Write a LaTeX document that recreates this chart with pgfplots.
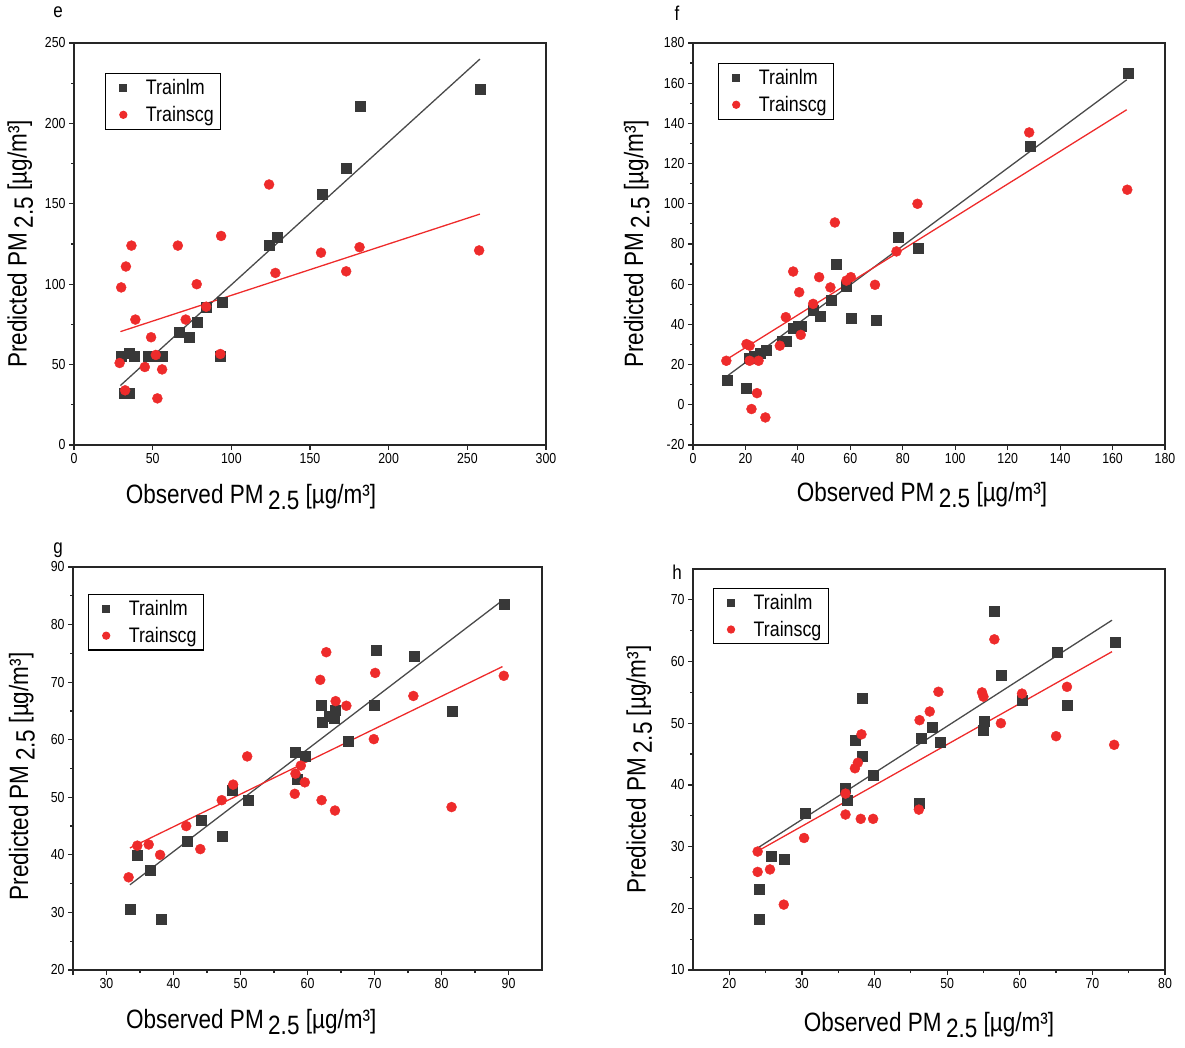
\documentclass[border=0pt]{standalone}
\usepackage{fontspec}
\setmainfont[FakeStretch=0.85]{Liberation Sans}
\usepackage{pgfplots}
\pgfplotsset{compat=1.18}
\definecolor{blk}{HTML}{383838}
\definecolor{rd}{HTML}{EE2B2B}
\definecolor{lblk}{HTML}{4A4A4A}
\pgfplotsset{
 panel/.style={
  scale only axis, width=472pt, height=402pt, anchor=south west,
  axis line style={line width=1.8pt, black!85},
  tick pos=left, tick align=outside,
  major tick length=5pt, minor tick length=3pt,
  every tick/.style={black!85, line width=1.2pt},
  ticklabel style={font=\fontsize{14.5}{14.5}\selectfont},
  /pgf/number format/assume math mode=true,
  label style={font=\fontsize{26.5}{26.5}\selectfont},
  legend style={draw=black, line width=1.2pt, font=\fontsize{21}{21}\selectfont,
    inner xsep=5pt, inner ysep=4pt, row sep=6pt},
  legend cell align=left,
  scaled ticks=false, clip=false,
  xlabel={Observed PM\,\raisebox{-0.45ex}{2.5} [µg/m³]},
  ylabel={Predicted PM\,\raisebox{-0.45ex}{2.5} [µg/m³]},
 },
 lm/.style={only marks, mark=square*, mark size=5pt, color=blk,
   legend image code/.code={\draw[##1,mark size=3.5pt] plot coordinates {(12pt,0pt)};\path (0pt,0pt) (32pt,0pt);}},
 scg/.style={only marks, mark=*, mark size=5pt, color=rd,
   legend image code/.code={\draw[##1,mark size=3.5pt] plot coordinates {(12pt,0pt)};\path (0pt,0pt) (32pt,0pt);}},
 lmfit/.style={no marks, line width=1.3pt, color=lblk, forget plot},
 scgfit/.style={no marks, line width=1.3pt, color=rd, forget plot},
}
\pgfplotstableread{
x y
30 55
35 57
38 55
47 55
52 55
56 55
32 32
35 32
67 70
73 67
78 76.5
84 86
94 89
93 55
124 124
129 129
158 156
173 172
182 211
258 221
}\eLM
\pgfplotstableread{
x y
30 98
33 111
36.5 124
39 78
29 51
32.5 34
49 67
45 48.5
52 56
56 47
53 29
66 124
71 78
78 100
84 86
93.5 130
93 56.6
124 162
128 107
157 119.6
173 108
181.5 123
257.5 121
}\eSCG
\pgfplotstableread{
x y
13.1 12.4
20.4 8.3
21.6 23.2
23.5 24
25.5 25.7
28 27.4
34 31.5
35.6 31.5
38.2 38.2
40 39.3
41.4 39
45.8 47.3
48.4 44
52.8 52.2
54.7 69.7
58.5 58.9
60.5 43.1
70 42.3
78.2 83.4
85.9 78
128.5 128.5
166 165
}\fLM
\pgfplotstableread{
x y
12.7 21.9
20.4 30.2
21.6 29.4
21.6 21.9
25 21.9
22.3 -2.1
24.4 5.8
27.6 -6.3
33.1 29.4
35.4 43.6
38.2 66.3
40.5 56
41.1 34.8
45.8 50.2
48.1 63.5
52.4 58.4
54.1 90.7
58.5 61.8
60.2 63.5
69.4 59.7
77.6 76.3
85.6 100
128.2 135.5
165.6 107
}\fSCG
\pgfplotstableread{
x y
33.5 30.6
34.6 39.9
36.5 37.4
38.2 28.8
42 42.4
44.2 46
47.2 43.3
48.7 51.2
51.1 49.5
58.2 57.9
58.4 53.2
59.7 57.2
62 66
62.2 63
63.2 64.1
64.1 65.1
64 63.8
66 59.8
69.9 66
70.3 75.5
75.9 74.5
81.6 65
89.4 83.5
}\gLM
\pgfplotstableread{
x y
33.3 36.1
34.6 41.6
36.3 41.8
38 40
41.9 45
44 41
47.2 49.5
48.9 52.2
51 57.1
58.1 50.6
58.2 54.1
59 55.5
59.6 52.6
61.9 70.4
62.8 75.2
62.1 49.5
64.2 66.7
65.8 65.9
64.1 47.7
70.1 71.6
69.9 60.1
75.8 67.6
81.5 48.3
89.3 71.1
}\gSCG
\pgfplotstableread{
x y
24.1 18.2
24.1 23.1
25.8 28.4
27.6 27.9
30.4 35.4
36.0 39.4
36.2 37.6
37.4 47.2
38.3 54.1
38.3 44.6
39.8 41.6
46.2 37
46.4 47.6
47.9 49.3
49.1 46.9
55.0 48.9
55.1 50.4
56.5 68.1
57.5 57.8
60.4 53.7
65.1 61.5
66.5 52.9
73.1 63.2
}\hLM
\pgfplotstableread{
x y
23.9 29.2
23.9 25.9
25.6 26.3
27.5 20.6
30.3 31.4
36 38.6
36 35.2
37.3 42.7
37.7 43.6
38.2 48.2
38.1 34.5
39.8 34.5
46.1 36
46.2 50.5
47.6 51.9
48.8 55.1
54.8 55
55 54.3
56.5 63.6
57.4 50
60.3 54.8
65 47.9
66.5 55.9
73 46.5
}\hSCG
\begin{document}
\begin{tikzpicture}
\useasboundingbox (0pt,0pt) rectangle (1185pt,1047pt);
% panel e
\begin{axis}[panel, at={(74pt,602pt)},
  xmin=0, xmax=300, ymin=0, ymax=250,
  xtick={0,50,...,300}, ytick={0,50,...,250}, minor y tick num=1,
  xlabel style={at={(axis description cs:0.375,-0.129)}, anchor=center},
  ylabel style={at={(axis description cs:-0.114,0.5)}, anchor=center},
  legend style={at={(axis description cs:0.066,0.925)}, anchor=north west}]
\addplot[lmfit] coordinates {(29.5,37) (258,240)};
\addplot[scgfit] coordinates {(29.5,70.5) (258,143.6)};
\addplot[lm] table {\eLM};
\addplot[scg] table {\eSCG};
\legend{Trainlm, Trainscg}
\end{axis}
% panel f
\begin{axis}[panel, at={(693pt,602pt)},
  xmin=0, xmax=180, ymin=-20, ymax=180,
  xtick={0,20,...,180}, ytick={-20,0,...,180}, minor y tick num=1,
  xlabel style={at={(axis description cs:0.485,-0.124)}, anchor=center},
  ylabel style={at={(axis description cs:-0.119,0.5)}, anchor=center},
  legend style={at={(axis description cs:0.053,0.95)}, anchor=north west}]
\addplot[lmfit] coordinates {(12,13.3) (165.4,161.7)};
\addplot[scgfit] coordinates {(11.5,21.5) (165.4,146.8)};
\addplot[lm] table {\fLM};
\addplot[scg] table {\fSCG};
\legend{Trainlm, Trainscg}
\end{axis}
% panel g
\begin{axis}[panel, at={(73pt,77pt)}, width=469pt, height=403pt,
  xmin=25, xmax=95, ymin=20, ymax=90,
  xtick={30,40,...,90}, ytick={20,30,...,90}, minor x tick num=1, minor y tick num=1,
  extra x ticks={25}, extra x tick labels={},
  xlabel style={at={(axis description cs:0.38,-0.129)}, anchor=center},
  ylabel style={at={(axis description cs:-0.109,0.48)}, anchor=center},
  legend style={at={(axis description cs:0.032,0.933)}, anchor=north west}]
\addplot[lmfit] coordinates {(33.5,34.8) (89.1,84.2)};
\addplot[scgfit] coordinates {(33.5,41.2) (89.1,72.7)};
\addplot[lm] table {\gLM};
\addplot[scg] table {\gSCG};
\legend{Trainlm, Trainscg}
\end{axis}
% panel h
\begin{axis}[panel, at={(693pt,77pt)}, width=472pt, height=401pt,
  xmin=15, xmax=80, ymin=10, ymax=75,
  xtick={20,30,...,80}, ytick={10,20,...,70}, minor x tick num=1, minor y tick num=1,
  xlabel style={at={(axis description cs:0.5,-0.137)}, anchor=center},
  ylabel style={at={(axis description cs:-0.114,0.5)}, anchor=center},
  legend style={at={(axis description cs:0.042,0.953)}, anchor=north west}]
\addplot[lmfit] coordinates {(23.8,29.7) (72.7,66.7)};
\addplot[scgfit] coordinates {(23.8,29.2) (72.7,61.6)};
\addplot[lm] table {\hLM};
\addplot[scg] table {\hSCG};
\legend{Trainlm, Trainscg}
\end{axis}
\node[font=\fontsize{20}{20}\selectfont] at (58pt,1035pt) {e};
\node[font=\fontsize{20}{20}\selectfont] at (677pt,1034pt) {f};
\node[font=\fontsize{20}{20}\selectfont] at (58pt,497pt) {g};
\node[font=\fontsize{20}{20}\selectfont] at (677pt,475pt) {h};
\end{tikzpicture}
\end{document}
